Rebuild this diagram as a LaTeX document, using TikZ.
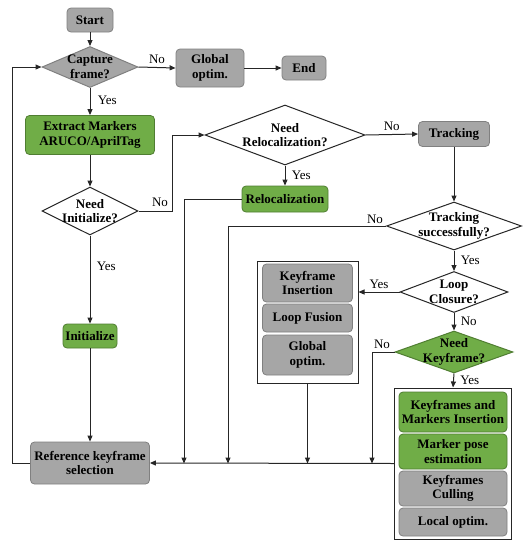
\documentclass[tikz,border=0pt]{standalone}
\usepackage{fontspec}
\setmainfont{Liberation Serif}
\usetikzlibrary{shapes.geometric,arrows.meta}
\definecolor{boxgray}{RGB}{166,166,166}
\definecolor{bordgray}{RGB}{128,128,128}
\definecolor{boxgreen}{RGB}{112,173,71}
\definecolor{bordgreen}{RGB}{80,126,50}
\definecolor{linecol}{RGB}{38,38,38}
\begin{document}
\begin{tikzpicture}[x=1pt,y=-1pt,
  every node/.style={font=\fontsize{13}{14.5}\selectfont},
  gbox/.style={rectangle,rounded corners=4pt,fill=boxgray,draw=bordgray,line width=0.8pt,
    font=\fontsize{13}{14.5}\selectfont\bfseries,align=center,inner sep=1pt},
  grbox/.style={gbox,fill=boxgreen,draw=bordgreen},
  dia/.style={diamond,draw=linecol,line width=1pt,inner sep=0pt,fill=white},
  dlab/.style={align=center,font=\fontsize{13}{14.5}\selectfont\bfseries},
  grp/.style={rectangle,draw=linecol,line width=1pt,fill=white,inner sep=0pt},
  arr/.style={draw=linecol,line width=1pt,-{Triangle[length=6pt,width=5pt]}},
  lbl/.style={font=\fontsize{13}{14.5}\selectfont}]
\useasboundingbox (0,0) rectangle (526,550);
% top row
\node[gbox,minimum width=46pt,minimum height=24pt] (start) at (90,20) {Start};
\node[dia,fill=boxgray,draw=bordgray,minimum width=96pt,minimum height=41pt,
  label={[dlab]center:Capture\\frame?}] (cap) at (90,67) {};
\node[gbox,minimum width=68pt,minimum height=38pt] (gopt) at (210,68) {Global\\optim.};
\node[gbox,minimum width=44pt,minimum height=24pt] (end) at (304,68) {End};
\node[grbox,minimum width=129pt,minimum height=39pt] (ext) at (90,135) {Extract Markers\\ARUCO/AprilTag};
\node[dia,minimum width=96pt,minimum height=48pt,
  label={[dlab]center:Need\\Initialize?}] (ninit) at (90,211) {};
\node[grbox,minimum width=54pt,minimum height=24pt] (init) at (90,336) {Initialize};
\node[gbox,minimum width=119pt,minimum height=42pt] (ref) at (90,463) {Reference keyframe\\selection};
% relocalization
\node[dia,minimum width=160pt,minimum height=60pt,
  label={[dlab]center:Need\\Relocalization?}] (nreloc) at (285,135) {};
\node[grbox,minimum width=86pt,minimum height=26pt] (reloc) at (285,199) {Relocalization};
\node[gbox,minimum width=71pt,minimum height=25pt] (track) at (454,134) {Tracking};
\node[dia,minimum width=135pt,minimum height=48pt,
  label={[dlab]center:Tracking\\successfully?}] (tsucc) at (454,226) {};
\node[dia,minimum width=108pt,minimum height=41pt,
  label={[dlab]center:Loop\\Closure?}] (loop) at (454,292) {};
\node[dia,fill=boxgreen,draw=bordgreen,minimum width=118pt,minimum height=42pt,
  label={[dlab]center:Need\\Keyframe?}] (nkf) at (454,352) {};
% group 1
\node[grp,minimum width=101pt,minimum height=122pt] (grp1) at (307.5,322) {};
\node[gbox,minimum width=90pt,minimum height=38pt] (kfi) at (307.5,283) {Keyframe\\Insertion};
\node[gbox,minimum width=90pt,minimum height=28pt] (lf) at (307.5,318) {Loop Fusion};
\node[gbox,minimum width=90pt,minimum height=40pt] (go2) at (307.5,355) {Global\\optim.};
% group 2
\node[grp,minimum width=117pt,minimum height=151pt] (grp2) at (453,463.5) {};
\node[grbox,minimum width=108pt,minimum height=40pt] (kmi) at (453,412) {Keyframes and\\Markers Insertion};
\node[grbox,minimum width=108pt,minimum height=35pt] (mpe) at (453,451.5) {Marker pose\\estimation};
\node[gbox,minimum width=108pt,minimum height=35pt] (kfc) at (453,488.5) {Keyframes\\Culling};
\node[gbox,minimum width=108pt,minimum height=28pt] (lo) at (453,522) {Local optim.};
% coordinates
\coordinate (j1) at (172,135);
\coordinate (d1) at (184,463.5);
\coordinate (d2) at (228,463.5);
\coordinate (d3) at (307.5,463.5);
\coordinate (d4) at (372,463.5);
\coordinate (lp) at (12,463);
% connectors
\draw[arr] (start) -- (cap);
\draw[arr] (cap.east) -- (gopt.west) node[lbl,midway,above] {No};
\draw[arr] (gopt) -- (end);
\draw[arr] (cap.south) -- (ext.north) node[lbl,pos=0.45,right=4pt] {Yes};
\draw[arr] (ext.south) -- (ninit.north);
\draw[arr] (ninit.east) -| (j1) -- (nreloc.west);
\node[lbl] (noinit) at (160,202) {No};
\draw[arr] (ninit.south) -- (init.north) node[lbl,pos=0.35,right=3pt] {Yes};
\draw[arr] (init.south) -- (ref.north);
\draw[arr] (ref.west) -- (lp) |- (cap.west);
\draw[arr] (nreloc.east) -- (track.west) node[lbl,midway,above] {No};
\draw[arr] (nreloc.south) -- (reloc.north) node[lbl,midway,right=3pt] {Yes};
\draw[arr] (reloc.west) -| (d1);
\draw[arr] (track.south) -- (tsucc.north);
\draw[arr] (tsucc.west) -| (d2);
\node[lbl] (notr) at (375,219) {No};
\draw[arr] (tsucc.south) -- (loop.north) node[lbl,midway,right=3pt] {Yes};
\draw[arr] (loop.west) -- (loop.west -| grp1.east) node[lbl,midway,above] {Yes};
\draw[arr] (loop.south) -- (nkf.north) node[lbl,midway,right=3pt] {No};
\draw[arr] (nkf.west) -| (d4);
\node[lbl] (nokf) at (382,344) {No};
\draw[arr] (nkf.south) -- (grp2.north) node[lbl,midway,right=3pt] {Yes};
\draw[arr] (grp1.south) -- (d3);
\draw[arr] (grp2.west) -- (ref.east);
\end{tikzpicture}
\end{document}
